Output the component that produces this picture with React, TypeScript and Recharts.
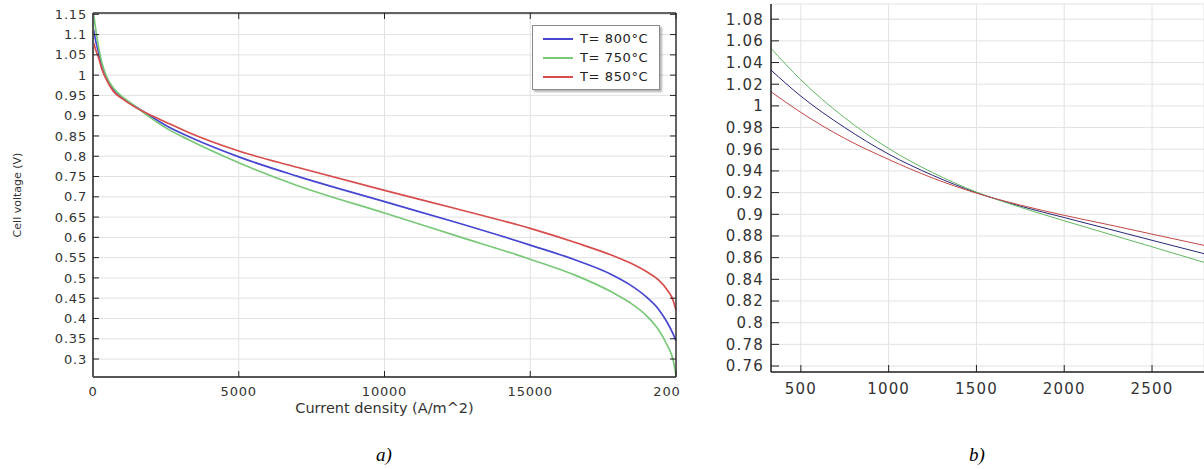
import React from 'react';
import { LineChart, Line, XAxis, YAxis, CartesianGrid, Legend } from 'recharts';

// a) full polarisation curves, 0..20000 A/m^2
const currentA = [20, 100, 200, 300, 450, 700, 1000, 1400, 1900, 2500, 3300, 5000, 7000, 10000, 12500, 15000, 16600, 17800, 18400, 19000, 19400, 19700, 19900, 20000];
const voltA800 = [1.112, 1.082, 1.053, 1.024, 0.995, 0.965, 0.945, 0.925, 0.902, 0.876, 0.848, 0.7985, 0.751, 0.688, 0.636, 0.581, 0.543, 0.508, 0.484, 0.452, 0.423, 0.39, 0.362, 0.345];
const voltA750 = [1.152, 1.11, 1.066, 1.032, 0.999, 0.968, 0.947, 0.926, 0.899, 0.87, 0.84, 0.784, 0.728, 0.66, 0.603, 0.546, 0.505, 0.465, 0.44, 0.406, 0.372, 0.334, 0.298, 0.26];
const voltA850 = [1.08, 1.061, 1.041, 1.016, 0.99, 0.96, 0.942, 0.923, 0.904, 0.884, 0.858, 0.813, 0.773, 0.716, 0.67, 0.622, 0.586, 0.556, 0.538, 0.515, 0.495, 0.47, 0.445, 0.42];
const xTicksA = [0, 5000, 10000, 15000, 20000];
const yTicksA = [0.3, 0.35, 0.4, 0.45, 0.5, 0.55, 0.6, 0.65, 0.7, 0.75, 0.8, 0.85, 0.9, 0.95, 1, 1.05, 1.1, 1.15];

// b) zoom on the low current region
const currentB = [330, 500, 750, 1000, 1250, 1500, 1750, 2000, 2250, 2500, 2800];
const voltB800 = [1.033, 1.009, 0.98, 0.9555, 0.936, 0.92, 0.9075, 0.897, 0.8865, 0.876, 0.8635];
const voltB750 = [1.053, 1.024, 0.989, 0.9607, 0.9385, 0.9205, 0.9065, 0.894, 0.882, 0.87, 0.8555];
const voltB850 = [1.013, 0.994, 0.97, 0.9506, 0.9335, 0.9195, 0.9085, 0.899, 0.8905, 0.8817, 0.8712];
const xTicksB = [500, 1000, 1500, 2000, 2500];
const yTicksB = [0.76, 0.78, 0.8, 0.82, 0.84, 0.86, 0.88, 0.9, 0.92, 0.94, 0.96, 0.98, 1, 1.02, 1.04, 1.06, 1.08];

const seriesNames = ['T= 800°C', 'T= 750°C', 'T= 850°C'];
const colorsA = ['#4646d2', '#78c878', '#d84c4c'];
const colorsB = ['#26267a', '#62b862', '#c44646'];

const rowsA = currentA.map((i, k) => ({ i, t800: voltA800[k], t750: voltA750[k], t850: voltA850[k] }));
const rowsB = currentB.map((i, k) => ({ i, t800: voltB800[k], t750: voltB750[k], t850: voltB850[k] }));

const FONT = '"DejaVu Sans", Verdana, sans-serif';
const GRID = '#e2e2e2';

function LegendBox() {
  return (
    <div style={{ border: '1px solid #8a8a8a', background: '#fff', boxShadow: '2px 2px 2px rgba(0,0,0,0.3)', padding: '3px 0 3px 10px', fontFamily: FONT, fontSize: 13, letterSpacing: 0.6, color: '#222' }}>
      {seriesNames.map((name, k) => (
        <div key={name} style={{ display: 'flex', alignItems: 'center', height: 19 }}>
          <span style={{ width: 30, height: 0, borderTop: `2px solid ${colorsA[k]}`, marginRight: 7 }} />
          {name}
        </div>
      ))}
    </div>
  );
}

export default function App() {
  const tickA = { fill: '#333', fontSize: 13, fontFamily: FONT, letterSpacing: 0.8 };
  const tickB = { fill: '#333', fontSize: 15, fontFamily: FONT, letterSpacing: 1.2 };
  return (
    <div style={{ position: 'absolute', left: 0, top: 0, width: 1204, height: 469, overflow: 'hidden', background: '#fff' }}>
      <div style={{ position: 'absolute', left: 0, top: 0, width: 681, height: 420, overflow: 'hidden' }}>
        <LineChart width={700} height={420} data={rowsA} margin={{ top: 12, right: 23, bottom: 0, left: 0 }}>
          <CartesianGrid stroke={GRID} />
          <XAxis dataKey="i" type="number" domain={[0, 20000]} ticks={xTicksA} interval={0} height={43}
            tickSize={-6} tickMargin={16} axisLine={{ stroke: '#222', strokeWidth: 1.5 }} tickLine={{ stroke: '#222' }} tick={tickA}
            label={{ value: 'Current density (A/m^2)', position: 'insideBottom', offset: 7, fill: '#333', fontSize: 14.5, fontFamily: FONT }} />
          <XAxis xAxisId="top" orientation="top" dataKey="i" type="number" domain={[0, 20000]} ticks={xTicksA} interval={0} height={1}
            tickSize={-6} tickFormatter={() => ''} axisLine={{ stroke: '#333', strokeWidth: 1.5 }} tickLine={{ stroke: '#222' }} />
          <YAxis type="number" domain={[0.2557, 1.1532]} allowDataOverflow ticks={yTicksA} interval={0} width={93}
            tickSize={-6} tickMargin={12} axisLine={{ stroke: '#555', strokeWidth: 2 }} tickLine={{ stroke: '#222' }} tick={tickA}
            tickFormatter={(v: number) => String(v)}
            label={{ value: 'Cell voltage (V)', angle: -90, position: 'insideLeft', offset: 17, style: { textAnchor: 'middle' }, fill: '#333', fontSize: 11, fontFamily: FONT }} />
          <YAxis yAxisId="right" orientation="right" type="number" domain={[0.2557, 1.1532]} allowDataOverflow ticks={yTicksA} interval={0} width={1}
            tickSize={-6} tickFormatter={() => ''} axisLine={{ stroke: '#333', strokeWidth: 1.5 }} tickLine={{ stroke: '#222' }} />
          <Legend layout="vertical" align="center" verticalAlign="middle"
            wrapperStyle={{ left: 532, top: 25, width: 128 }} content={() => <LegendBox />} />
          <Line dataKey="t800" name={seriesNames[0]} type="monotone" stroke={colorsA[0]} strokeWidth={1.7} dot={false} isAnimationActive={false} />
          <Line dataKey="t750" name={seriesNames[1]} type="monotone" stroke={colorsA[1]} strokeWidth={1.7} dot={false} isAnimationActive={false} />
          <Line dataKey="t850" name={seriesNames[2]} type="monotone" stroke={colorsA[2]} strokeWidth={1.7} dot={false} isAnimationActive={false} />
        </LineChart>
      </div>

      <div style={{ position: 'absolute', left: 700, top: 0, width: 504, height: 400, overflow: 'hidden' }}>
        <LineChart width={504} height={400} data={rowsB} margin={{ top: 4, right: 0, bottom: 0, left: 0 }}>
          <CartesianGrid stroke={GRID} />
          <XAxis dataKey="i" type="number" domain={[330, 2796]} allowDataOverflow ticks={xTicksB} interval={0} height={28}
            tickSize={-7} tickMargin={18} axisLine={{ stroke: '#222', strokeWidth: 1.5 }} tickLine={{ stroke: '#222' }} tick={tickB} />
          <YAxis type="number" domain={[0.7545, 1.094]} allowDataOverflow ticks={yTicksB} interval={0} width={71}
            tickSize={-8} tickMargin={15} axisLine={{ stroke: '#222', strokeWidth: 1.5 }} tickLine={{ stroke: '#222' }} tick={tickB}
            tickFormatter={(v: number) => String(v)} />
          <Line dataKey="t800" name={seriesNames[0]} type="monotone" stroke={colorsB[0]} strokeWidth={1} dot={false} isAnimationActive={false} />
          <Line dataKey="t750" name={seriesNames[1]} type="monotone" stroke={colorsB[1]} strokeWidth={1} dot={false} isAnimationActive={false} />
          <Line dataKey="t850" name={seriesNames[2]} type="monotone" stroke={colorsB[2]} strokeWidth={1} dot={false} isAnimationActive={false} />
        </LineChart>
      </div>

      <div style={{ position: 'absolute', left: 354, top: 444, width: 60, textAlign: 'center', fontFamily: '"Liberation Serif", serif', fontStyle: 'italic', fontSize: 19, lineHeight: '22px' }}>a)</div>
      <div style={{ position: 'absolute', left: 947, top: 444, width: 60, textAlign: 'center', fontFamily: '"Liberation Serif", serif', fontStyle: 'italic', fontSize: 19, lineHeight: '22px' }}>b)</div>
    </div>
  );
}
